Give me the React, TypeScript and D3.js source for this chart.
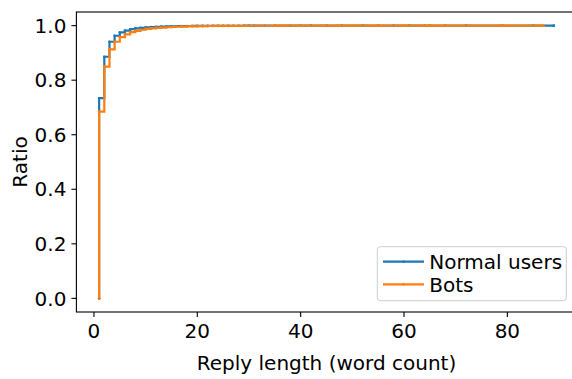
import { useEffect, useRef } from "react";
import * as d3 from "d3";

// ECDF of reply length (word count)
const normalX = [
  1, 2, 3, 4, 5, 6, 7, 8, 9, 10, 11, 12, 13, 14, 15, 16, 17, 18, 19, 20, 21, 22, 23, 24, 25, 26, 27, 28, 29, 30,
  31, 33, 35, 38, 40, 42, 45, 48, 52, 55, 58, 61, 64, 65, 68, 72, 79, 85, 89,
];
const normalY = [
  0.734, 0.886, 0.941, 0.963, 0.975, 0.982, 0.987, 0.99, 0.992, 0.994, 0.995, 0.996, 0.9965, 0.997, 0.9975, 0.998,
  0.9983, 0.9986, 0.9988, 0.999, 0.9991, 0.9992, 0.9993, 0.9994, 0.9995, 0.9995, 0.9996, 0.9996, 0.9997, 0.9997,
  0.9997, 0.9998, 0.9998, 0.9998, 0.9999, 0.9999, 0.9999, 0.9999, 0.9999, 0.9999, 0.9999, 0.9999, 0.9999, 1.0,
  1.0, 1.0, 1.0, 1.0, 1.0,
];
const botsX = [
  1, 2, 3, 4, 5, 6, 7, 8, 9, 10, 11, 12, 13, 14, 15, 16, 17, 18, 19, 20, 21, 22, 23, 24, 25, 26, 27, 28, 30, 32,
  35, 37, 40, 44, 47, 50, 55, 60, 64, 65, 68, 79, 87,
];
const botsY = [
  0.685, 0.85, 0.913, 0.941, 0.958, 0.968, 0.976, 0.981, 0.985, 0.988, 0.99, 0.992, 0.993, 0.994, 0.995, 0.996,
  0.9965, 0.997, 0.9975, 0.998, 0.9983, 0.9986, 0.9988, 0.999, 0.9991, 0.9992, 0.9993, 0.9994, 0.9995, 0.9996,
  0.9997, 0.9997, 0.9998, 0.9998, 0.9998, 0.9999, 0.9999, 0.9999, 0.9999, 0.9999, 1.0, 1.0, 1.0,
];
const seriesNames = ["Normal users", "Bots"];
const colors = ["#1f77b4", "#ff7f0e"];
const xTicks = [0, 20, 40, 60, 80];
const yTicks = [0, 0.2, 0.4, 0.6, 0.8, 1.0];

const App = () => {
  const ref = useRef(null);

  useEffect(() => {
    const svg = d3.select(ref.current);
    svg.selectAll("*").remove();

    const left = 76.4;
    const right = 576.6;
    const top = 12;
    const bottom = 312;
    const font = "DejaVu Sans, sans-serif";
    const fs = 20;

    const x = d3.scaleLinear().domain([-3.4, 93.4]).range([left, right]);
    const y = d3.scaleLinear().domain([-0.05, 1.05]).range([bottom, top]);

    const series = [
      { xs: normalX, ys: normalY },
      { xs: botsX, ys: botsY },
    ];

    const line = d3
      .line<[number, number]>()
      .x((d) => x(d[0]))
      .y((d) => y(d[1]))
      .curve(d3.curveStepAfter);

    series.forEach((s, i) => {
      const pts: [number, number][] = [[s.xs[0], 0]];
      s.xs.forEach((v, j) => pts.push([v, s.ys[j]]));
      svg
        .append("path")
        .attr("d", line(pts))
        .attr("fill", "none")
        .attr("stroke", colors[i])
        .attr("stroke-width", 2.2)
        .attr("stroke-linecap", "square");
      svg
        .append("g")
        .selectAll("circle")
        .data(pts)
        .join("circle")
        .attr("cx", (d) => x(d[0]))
        .attr("cy", (d) => y(d[1]))
        .attr("r", 1.3)
        .attr("fill", colors[i]);
    });

    // spines
    svg
      .append("rect")
      .attr("x", left)
      .attr("y", top)
      .attr("width", right - left)
      .attr("height", bottom - top)
      .attr("fill", "none")
      .attr("stroke", "#000")
      .attr("stroke-width", 1.1);

    // x axis
    xTicks.forEach((t) => {
      svg
        .append("line")
        .attr("x1", x(t))
        .attr("x2", x(t))
        .attr("y1", bottom)
        .attr("y2", bottom + 5)
        .attr("stroke", "#000")
        .attr("stroke-width", 1.1);
      svg
        .append("text")
        .attr("x", x(t))
        .attr("y", bottom + 25.5)
        .attr("text-anchor", "middle")
        .attr("font-family", font)
        .attr("font-size", fs)
        .text(String(t));
    });

    // y axis
    yTicks.forEach((t) => {
      svg
        .append("line")
        .attr("x1", left - 5)
        .attr("x2", left)
        .attr("y1", y(t))
        .attr("y2", y(t))
        .attr("stroke", "#000")
        .attr("stroke-width", 1.1);
      svg
        .append("text")
        .attr("x", left - 10)
        .attr("y", y(t))
        .attr("dy", "0.36em")
        .attr("text-anchor", "end")
        .attr("font-family", font)
        .attr("font-size", fs)
        .text(d3.format(".1f")(t));
    });

    svg
      .append("text")
      .attr("x", (left + right) / 2)
      .attr("y", 370)
      .attr("text-anchor", "middle")
      .attr("font-family", font)
      .attr("font-size", fs)
      .text("Reply length (word count)");

    svg
      .append("text")
      .attr("transform", `translate(27,${(top + bottom) / 2}) rotate(-90)`)
      .attr("text-anchor", "middle")
      .attr("font-family", font)
      .attr("font-size", fs)
      .text("Ratio");

    // legend
    const legend = svg.append("g");
    legend
      .append("rect")
      .attr("x", 377.3)
      .attr("y", 246.7)
      .attr("width", 189)
      .attr("height", 54)
      .attr("rx", 3)
      .attr("fill", "#fff")
      .attr("fill-opacity", 0.8)
      .attr("stroke", "#ccc")
      .attr("stroke-width", 1);
    seriesNames.forEach((name, i) => {
      const ly = 261.7 + i * 22.6;
      legend
        .append("line")
        .attr("x1", 383)
        .attr("x2", 424)
        .attr("y1", ly)
        .attr("y2", ly)
        .attr("stroke", colors[i])
        .attr("stroke-width", 2.2);
      legend
        .append("circle")
        .attr("cx", 403.5)
        .attr("cy", ly)
        .attr("r", 1.3)
        .attr("fill", colors[i]);
      legend
        .append("text")
        .attr("x", 429.3)
        .attr("y", ly)
        .attr("dy", "0.36em")
        .attr("font-family", font)
        .attr("font-size", fs)
        .text(name);
    });
  }, []);

  return (
    <svg
      ref={ref}
      width={572}
      height={379}
      style={{ position: "absolute", left: 0, top: 0, background: "#fff" }}
    ></svg>
  );
};

export default App;
